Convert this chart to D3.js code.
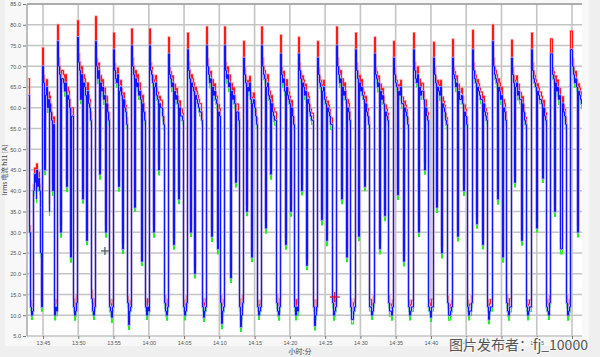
<!DOCTYPE html>
<html>
<head>
<meta charset="utf-8">
<script src="https://cdn.jsdelivr.net/npm/d3@7/dist/d3.min.js"></script>
<style>
  html, body { margin: 0; padding: 0; background: #f0f0f0; }
  svg { display: block; }
  text { font-family: "Liberation Sans", "DejaVu Sans", sans-serif; }
</style>
</head>
<body>
<svg id="chart" width="600" height="357"></svg>
<script>
// ---------- DATA ----------
const yTicks = [5, 10, 15, 20, 25, 30, 35, 40, 45, 50, 55, 60, 65, 70, 75, 80, 85];
const xTickLabels = ["13:45","13:50","13:55","14:00","14:05","14:10","14:15","14:20","14:25","14:30","14:35","14:40","14:45","14:50","14:55","15:00"];
const timeStart = "13:42:44";
const timeEnd = "15:01:25";

// time of each current spike (start of each cycle)
const cycleTimes = ["13:42:52","13:44:51","13:46:59","13:49:49","13:52:22","13:54:55","13:57:28","14:00:01",
  "14:02:42","14:05:23","14:08:05","14:10:38","14:13:20","14:15:52","14:18:34","14:21:07","14:23:49",
  "14:26:30","14:29:11","14:31:53","14:34:34","14:37:24","14:40:14","14:42:56","14:45:46","14:48:36",
  "14:51:17","14:54:07","14:56:57","14:59:47"];
const cycleEnd = "15:02:30";

// peak of the max trace in each cycle
const maxPeaks = [67, 74.4, 80, 81, 82, 78, 79, 79, 77, 78, 79.5, 79.5, 76, 79.5, 77.5, 77, 76, 79.5,
  78, 77, 76, 78, 75.8, 76.5, 78.7, 80, 76.3, 78, 76.6, 78.5];

// rms trace: values through each cycle (spike, plateau with dips)
const rmsPlateau = [
  [63, 58, 30, 12, 10, 11, 13, 40, 44, 42, 38, 45, 41, 43],
  [70, 66, 64, 45, 63, 65, 60, 62, 35, 61, 59, 57, 40, 56],
  [76, 70, 68, 30, 67, 66, 64, 66, 41, 63, 62, 60, 24, 58],
  [77, 71, 69, 62, 68, 38, 66, 65, 63, 28, 64, 61, 60, 57],
  [76, 70, 67, 69, 44, 66, 64, 65, 62, 63, 30, 61, 59, 57],
  [74, 69, 67, 66, 68, 41, 64, 65, 63, 26, 62, 60, 59, 56],
  [75, 70, 68, 36, 67, 65, 66, 63, 64, 62, 23, 61, 59, 57],
  [75, 69, 68, 66, 30, 65, 66, 63, 62, 45, 61, 60, 58, 56],
  [73, 68, 67, 65, 66, 27, 64, 62, 63, 61, 38, 60, 58, 57],
  [74, 69, 67, 30, 66, 65, 64, 20, 63, 62, 61, 60, 59, 57],
  [75, 70, 68, 66, 67, 29, 65, 63, 64, 62, 61, 26, 59, 58],
  [75, 69, 67, 68, 65, 66, 19, 64, 62, 63, 61, 42, 59, 57],
  [72, 68, 66, 35, 65, 64, 66, 62, 24, 61, 62, 60, 58, 56],
  [75, 70, 68, 67, 31, 65, 66, 63, 62, 44, 61, 59, 58, 57],
  [73, 68, 66, 67, 64, 27, 65, 63, 62, 61, 35, 60, 58, 56],
  [73, 69, 67, 40, 66, 65, 63, 64, 22, 62, 61, 59, 58, 57],
  [72, 68, 66, 65, 33, 64, 65, 62, 61, 28, 60, 59, 58, 56],
  [75, 70, 68, 66, 67, 38, 65, 63, 64, 62, 24, 60, 59, 57],
  [74, 69, 67, 29, 66, 64, 65, 63, 62, 41, 61, 59, 58, 56],
  [73, 68, 67, 65, 66, 26, 64, 62, 63, 61, 34, 59, 58, 57],
  [72, 68, 66, 65, 39, 64, 63, 65, 61, 23, 60, 59, 58, 56],
  [74, 69, 67, 66, 68, 30, 65, 63, 64, 62, 45, 60, 58, 57],
  [72, 68, 66, 36, 65, 64, 63, 65, 25, 61, 60, 59, 57, 56],
  [72, 68, 67, 65, 66, 29, 64, 62, 63, 61, 40, 59, 58, 56],
  [74, 69, 67, 66, 32, 65, 64, 63, 62, 27, 61, 59, 58, 57],
  [76, 70, 68, 67, 66, 38, 65, 64, 62, 63, 24, 60, 59, 57],
  [72, 68, 66, 42, 65, 66, 63, 64, 62, 28, 61, 59, 57, 56],
  [74, 69, 67, 66, 65, 31, 64, 63, 62, 61, 43, 60, 58, 57],
  [73, 68, 67, 35, 66, 64, 65, 62, 63, 26, 61, 59, 58, 56],
  [74, 70, 68, 66, 67, 65, 30, 64, 63, 62, 61, 60, 58, 20]
];
// rms trace: low values between cycles
const rmsBottom = [
  [40, 36, 25, 12], [13, 10, 12, 11], [12, 10, 11, 13], [14, 11, 10, 12], [12, 11, 9.5, 12],
  [13, 7.7, 11, 12], [12, 10, 12, 11], [13, 11, 10, 12], [12, 10, 11, 13], [12, 9.5, 11, 12],
  [13, 8, 11, 12], [12, 7.2, 10, 13], [12, 10, 11, 12], [13, 11, 10, 12], [12, 10, 12, 11],
  [12, 7.5, 10, 12], [13, 10, 11, 12], [12, 9, 11, 12], [12, 10, 11, 13], [13, 11, 10, 12],
  [12, 10, 11, 12], [12, 11, 9.5, 12], [13, 10, 11, 12], [12, 10, 11, 13], [12, 9, 11, 12],
  [13, 11, 10, 12], [12, 10, 11, 12], [12, 11, 10, 13], [13, 10, 11, 12], [12, 10, 11, 12]
];
// how far the max trace sits above rms, and the min trace below it, per cycle
const maxMargin = [1.5, 1.8, 2, 2, 1.8, 1.6, 2, 1.8, 1.7, 2, 1.8, 1.9, 1.6, 2, 1.8, 1.7, 1.6, 2,
  1.8, 1.7, 1.6, 1.9, 1.6, 1.7, 1.8, 2, 1.7, 1.8, 1.7, 1.8];
const minMargin = [1.0, 1.1, 1.2, 1.0, 1.2, 1.1, 1.0, 1.2, 1.1, 1.0, 1.2, 1.1, 1.0, 1.2, 1.1, 1.0,
  1.2, 1.1, 1.0, 1.2, 1.1, 1.0, 1.2, 1.1, 1.0, 1.2, 1.1, 1.0, 1.2, 1.1];

const cursors = [
  { time: "13:53:47", value: 25.5, color: "#556655", size: 4 },
  { time: "14:26:22", value: 14.4, color: "#dd1111", size: 5 }
];

const yTitle = "Irms 电流 h11 [A]";
const xTitle = "小时:分";
const watermark = "图片发布者：fj_10000";

// ---------- CHART ----------
const parse = d3.timeParse("%H:%M:%S");
const svg = d3.select("#chart");
const M = { left: 27, top: 4, right: 582, bottom: 336 };

const x = d3.scaleTime().domain([parse(timeStart), parse(timeEnd)]).range([M.left, M.right]);
const y = d3.scaleLinear().domain([5, 85]).range([M.bottom, M.top]);

// panel backgrounds
svg.append("rect").attr("x", 0).attr("y", 0).attr("width", 600).attr("height", 357).attr("fill", "#efefef");
svg.append("rect").attr("x", 5).attr("y", 0).attr("width", 584).attr("height", 346).attr("fill", "#f8f8f8");
svg.append("rect").attr("x", M.left).attr("y", M.top).attr("width", M.right - M.left)
  .attr("height", M.bottom - M.top).attr("fill", "#ffffff");

// grid
const gridG = svg.append("g");
gridG.selectAll(".hg").data(yTicks).join("line")
  .attr("x1", M.left).attr("x2", M.right)
  .attr("y1", d => y(d)).attr("y2", d => y(d))
  .attr("stroke", "#c4c4c4").attr("stroke-width", 1.6);
const xTickDates = xTickLabels.map(s => parse(s + ":00"));
gridG.selectAll(".vg").data(xTickDates).join("line")
  .attr("x1", d => x(d)).attr("x2", d => x(d))
  .attr("y1", M.top).attr("y2", M.bottom)
  .attr("stroke", "#c4c4c4").attr("stroke-width", 1.6);

// build series
const cycT = cycleTimes.map(parse);
const endT = parse(cycleEnd);
const rms = [], mx = [], mn = [];
cycT.forEach((t0, i) => {
  const t1 = i + 1 < cycT.length ? cycT[i + 1] : endT;
  const step = (t1 - t0) / 18;
  const vals = rmsPlateau[i].concat(rmsBottom[i]);
  vals.forEach((v, k) => {
    const t = new Date(+t0 + k * step);
    rms.push({ t, v });
    mx.push({ t, v: k === 0 ? maxPeaks[i] : v + maxMargin[i] });
    mn.push({ t, v: v - minMargin[i] });
  });
});

svg.append("clipPath").attr("id", "plotclip").append("rect")
  .attr("x", M.left).attr("y", M.top).attr("width", M.right - M.left).attr("height", M.bottom - M.top);

// snap to pixel centres so the thin traces stay crisp
const line = d3.line().x(d => Math.round(x(d.t)) + 0.5).y(d => y(d.v)).curve(d3.curveStepAfter);
const plot = svg.append("g").attr("clip-path", "url(#plotclip)");

// max & min traces first, then the rms envelope covers them except at the ends
plot.append("path").datum(mx).attr("d", line).attr("fill", "none")
  .attr("stroke", "#ffa0a0").attr("stroke-width", 2);
plot.append("path").datum(mx).attr("d", line).attr("fill", "none")
  .attr("stroke", "#ff1a1a").attr("stroke-width", 1);
plot.append("path").datum(mn).attr("d", line).attr("fill", "none")
  .attr("stroke", "#2ee82e").attr("stroke-width", 1.2);
plot.append("path").datum(rms).attr("d", line).attr("fill", "none")
  .attr("stroke", "#a8a8ff").attr("stroke-width", 2.2);
plot.append("path").datum(rms).attr("d", line).attr("fill", "none")
  .attr("stroke", "#1414ff").attr("stroke-width", 1);

// top border / frame
svg.append("line").attr("x1", M.left).attr("x2", M.right).attr("y1", M.top).attr("y2", M.top)
  .attr("stroke", "#a0a0a0").attr("stroke-width", 1.5);
svg.append("line").attr("x1", M.left).attr("x2", M.left).attr("y1", M.top).attr("y2", M.bottom)
  .attr("stroke", "#a8a8a8").attr("stroke-width", 1.5);

// cursors
cursors.forEach(c => {
  const cx = x(parse(c.time)), cy = y(c.value);
  svg.append("line").attr("x1", cx - c.size).attr("x2", cx + c.size).attr("y1", cy).attr("y2", cy)
    .attr("stroke", c.color).attr("stroke-width", 1.3);
  svg.append("line").attr("x1", cx).attr("x2", cx).attr("y1", cy - c.size).attr("y2", cy + c.size)
    .attr("stroke", c.color).attr("stroke-width", 1.3);
});

// axes
const yAxis = d3.axisLeft(y).tickValues(yTicks).tickFormat(d3.format(".1f")).tickSize(3).tickPadding(2);
const gy = svg.append("g").attr("transform", `translate(${M.left - 1},0)`).call(yAxis);
gy.select(".domain").remove();
gy.selectAll("line").attr("stroke", "#777");
gy.selectAll("text").attr("font-size", 5.5).attr("fill", "#555");

const xAxis = d3.axisBottom(x).tickValues(xTickDates).tickFormat(d3.timeFormat("%H:%M")).tickSize(3).tickPadding(2);
const gx = svg.append("g").attr("transform", `translate(0,${M.bottom})`).call(xAxis);
gx.select(".domain").remove();
gx.selectAll("line").attr("stroke", "#777");
gx.selectAll("text").attr("font-size", 5.5).attr("fill", "#555");

// titles
svg.append("text").attr("transform", `translate(7,${(M.top + M.bottom) / 2}) rotate(-90)`)
  .attr("text-anchor", "middle").attr("font-size", 6.5).attr("fill", "#444")
  .style("font-family", "'Noto Sans CJK SC', sans-serif").text(yTitle);
svg.append("text").attr("x", 300).attr("y", 354).attr("text-anchor", "middle")
  .attr("font-size", 7).attr("fill", "#444")
  .style("font-family", "'Noto Sans CJK SC', sans-serif").text(xTitle);

// watermark (drawn over the last tick labels, as in the original)
svg.append("text").attr("x", 449).attr("y", 350).attr("font-size", 14).attr("fill", "#555")
  .attr("stroke", "#f6f6f6").attr("stroke-width", 2.2).attr("paint-order", "stroke")
  .style("font-family", "'Noto Sans CJK SC', sans-serif").text(watermark);
</script>
</body>
</html>
